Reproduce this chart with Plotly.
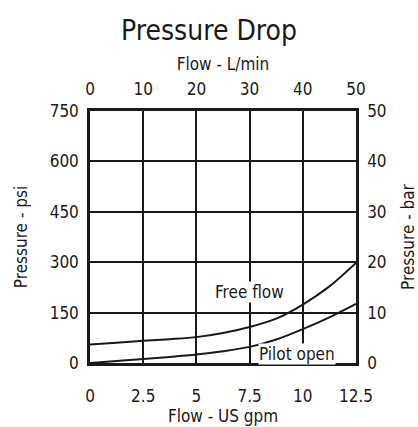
import plotly.graph_objects as go

# Flow in US gpm and pressure drop in psi
flow_gpm = [0, 1.25, 2.5, 3.75, 5, 6.25, 7.5, 8.75, 10, 11.25, 12.5]
free_flow_psi = [55, 60, 66, 71, 77, 89, 107, 132, 174, 228, 298]
pilot_open_psi = [0, 6, 12, 18, 25, 35, 48, 70, 101, 136, 176]

gpm_ticks = [0, 2.5, 5, 7.5, 10, 12.5]
gpm_labels = ["0", "2.5", "5", "7.5", "10", "12.5"]
lpm_ticks = [0, 10, 20, 30, 40, 50]
psi_ticks = [0, 150, 300, 450, 600, 750]
bar_ticks = [0, 10, 20, 30, 40, 50]

FONT = "DejaVu Sans Condensed, Liberation Sans Narrow, sans-serif"
INK = "#1a1a1a"
TS = 17

fig = go.Figure()
for name, ys in [("Free flow", free_flow_psi), ("Pilot open", pilot_open_psi)]:
    fig.add_trace(go.Scatter(
        x=flow_gpm, y=ys, mode="lines", name=name,
        line=dict(color=INK, width=2, shape="spline", smoothing=0.8),
        hoverinfo="skip", showlegend=False,
    ))

# invisible traces to activate the secondary axes
fig.add_trace(go.Scatter(x=[0, 50], y=[0, 0], xaxis="x2", yaxis="y",
                         mode="lines", line=dict(width=0), hoverinfo="skip",
                         showlegend=False))
fig.add_trace(go.Scatter(x=[0, 0], y=[0, 50], xaxis="x", yaxis="y2",
                         mode="lines", line=dict(width=0), hoverinfo="skip",
                         showlegend=False))

common = dict(showline=True, linecolor=INK, linewidth=2.5,
              tickfont=dict(family=FONT, size=TS, color=INK),
              zeroline=False, ticks="", fixedrange=True, automargin=False)

fig.update_layout(
    width=418, height=427,
    margin=dict(l=90, r=62, t=111, b=64),
    paper_bgcolor="white", plot_bgcolor="white",
    font=dict(family=FONT, color=INK),
    title=dict(text="Pressure Drop", x=0.5, xanchor="center", y=0.93,
               yanchor="middle", font=dict(family=FONT, size=28, color=INK)),
    xaxis=dict(range=[0, 12.5], tickvals=gpm_ticks, ticktext=gpm_labels,
               showgrid=True, gridcolor=INK, gridwidth=1.5, mirror=True,
               ticklabelstandoff=16,
               title=dict(text="Flow - US gpm", standoff=1,
                          font=dict(family=FONT, size=TS, color=INK)),
               **common),
    xaxis2=dict(range=[0, 50], tickvals=lpm_ticks, overlaying="x", side="top",
                showgrid=False, ticklabelstandoff=6,
                title=dict(text="Flow - L/min", standoff=5,
                           font=dict(family=FONT, size=TS, color=INK)),
                **common),
    yaxis=dict(range=[0, 750], tickvals=psi_ticks, showgrid=True,
               gridcolor=INK, gridwidth=1.5, mirror=True,
               ticklabelstandoff=5,
               title=dict(text="Pressure - psi", standoff=18,
                          font=dict(family=FONT, size=TS, color=INK)),
               **common),
    yaxis2=dict(range=[0, 50], tickvals=bar_ticks, overlaying="y",
                side="right", showgrid=False, ticklabelstandoff=5,
                title=dict(text="Pressure - bar", standoff=18,
                           font=dict(family=FONT, size=TS, color=INK)),
                **common),
)

fig.add_annotation(x=7.5, y=212, text="Free flow", showarrow=False,
                   font=dict(family=FONT, size=TS, color=INK),
                   bgcolor="white", borderpad=0)
fig.add_annotation(x=9.75, y=27, text="Pilot open", showarrow=False,
                   font=dict(family=FONT, size=TS, color=INK),
                   bgcolor="white", borderpad=0)

fig.write_html("out.html")
